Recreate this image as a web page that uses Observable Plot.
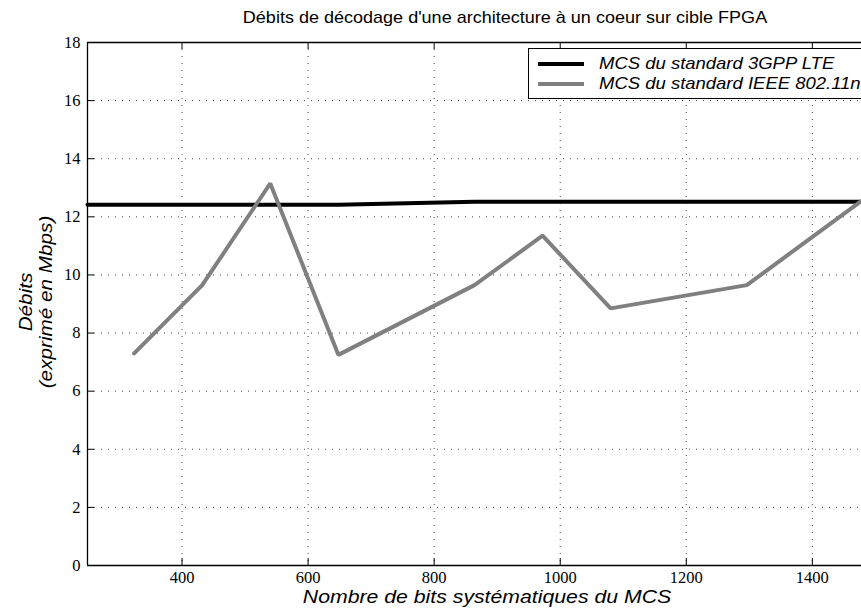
<!DOCTYPE html>
<html>
<head>
<meta charset="utf-8">
<script src="https://cdn.jsdelivr.net/npm/d3@7"></script>
<script src="https://cdn.jsdelivr.net/npm/@observablehq/plot@0.6"></script>
<style>
  html, body { margin: 0; padding: 0; background: #fff; overflow: hidden; }
  #wrap { position: relative; width: 861px; height: 612px; overflow: hidden; }
  #wrap svg text { font-family: "Liberation Serif", serif !important; font-size: 16.5px !important; }
  .lbl { position: absolute; font-family: "Liberation Sans", Arial, sans-serif; color: #000; white-space: nowrap; line-height: 1; }
  #legend { position: absolute; left: 528px; top: 48px; width: 400px; height: 51px; border: 1px solid #000; background: #fff; box-sizing: border-box; }
  .row { position: absolute; left: 0; height: 20px; }
  .sw { position: absolute; left: 9px; width: 46px; height: 4px; }
  .lt { position: absolute; left: 70px; font-family: "Liberation Sans", Arial, sans-serif; font-style: italic; font-size: 16.5px; white-space: nowrap; line-height: 18px; transform: scaleX(1.12); transform-origin: 0 0; }
</style>
</head>
<body>
<div id="wrap"></div>
<script>
// ---- data ----
const titleText = "Débits de décodage d'une architecture à un coeur sur cible FPGA";
const xLabel = "Nombre de bits systématiques du MCS";
const yLabel1 = "Débits";
const yLabel2 = "(exprimé en Mbps)";
const seriesNames = ["MCS du standard 3GPP LTE", "MCS du standard IEEE 802.11n"];
const xTicks = [400, 600, 800, 1000, 1200, 1400];
const yTicks = [0, 2, 4, 6, 8, 10, 12, 14, 16, 18];
const xDomain = [250, 1478];
const yDomain = [0, 18];
const lteX = [250, 400, 648, 864, 1000, 1200, 1478];
const lteY = [12.42, 12.42, 12.42, 12.52, 12.52, 12.52, 12.52];
const wifiX = [324, 432, 540, 648, 864, 972, 1080, 1296, 1478];
const wifiY = [7.3, 9.65, 13.15, 7.25, 9.65, 11.35, 8.85, 9.65, 12.55];

const lte = lteX.map((x, i) => ({x, y: lteY[i]}));
const wifi = wifiX.map((x, i) => ({x, y: wifiY[i]}));

const W = 861, H = 612, mL = 87, mR = 0, mT = 42, mB = 47;
const plotH = H - mT - mB, plotW = W - mL - mR, tk = 7;
const gridStyle = {stroke: "#222", strokeWidth: 1, strokeDasharray: "1,6", strokeOpacity: 0.85};
const serif = "Liberation Serif";
const tickFont = {fontFamily: serif, fontSize: 16.5, fill: "#000"};

const chart = Plot.plot({
  width: W, height: H,
  marginLeft: mL, marginRight: mR, marginTop: mT, marginBottom: mB,
  style: {fontFamily: serif, fontSize: "16.5px"},
  x: {domain: xDomain, axis: null},
  y: {domain: yDomain, axis: null},
  marks: [
    // grid
    Plot.ruleX(xTicks, {x: d => d, ...gridStyle}),
    Plot.ruleY(yTicks.filter(d => d > yDomain[0] && d < yDomain[1]), {y: d => d, ...gridStyle}),
    // inward ticks
    Plot.ruleX(xTicks, {x: d => d, insetTop: plotH - tk, stroke: "#000"}),
    Plot.ruleX(xTicks, {x: d => d, insetBottom: plotH - tk, stroke: "#000"}),
    Plot.ruleY(yTicks, {y: d => d, insetRight: plotW - tk, stroke: "#000"}),
    // frame (left, bottom, top)
    Plot.ruleX([xDomain[0]], {x: d => d, stroke: "#000", strokeWidth: 1.3}),
    Plot.ruleY(yDomain, {y: d => d, stroke: "#000", strokeWidth: 1.3}),
    // series
    Plot.line(lte, {x: "x", y: "y", stroke: "#000", strokeWidth: 4, strokeLinejoin: "miter"}),
    Plot.line(wifi, {x: "x", y: "y", stroke: "#808080", strokeWidth: 4, strokeLinejoin: "miter"}),
    // tick labels, placed through the scales
    Plot.text(xTicks, {x: d => d, text: d => String(d), frameAnchor: "bottom", lineAnchor: "top", dy: 6, ...tickFont}),
    Plot.text(yTicks, {y: d => d, text: d => String(d), frameAnchor: "left", textAnchor: "end", dx: -7, ...tickFont})
  ]
});

chart.setAttribute("font-family", serif);
chart.setAttribute("font-size", "16.5");
chart.querySelectorAll("text").forEach(t => {
  t.setAttribute("font-family", serif);
  t.setAttribute("font-size", "16.5");
  t.style.setProperty("font-family", "'Liberation Serif', serif", "important");
  t.style.setProperty("font-size", "16.5px", "important");
});

const wrap = document.getElementById("wrap");
wrap.appendChild(chart);

function addLabel(text, css) {
  const d = document.createElement("div");
  d.className = "lbl";
  d.textContent = text;
  Object.assign(d.style, css);
  wrap.appendChild(d);
  return d;
}
addLabel(titleText, {left: "505px", top: "17px", fontSize: "17px", transform: "translate(-50%,-50%) scaleX(1.06)"});
addLabel(xLabel, {left: "487px", top: "597px", fontSize: "18px", fontStyle: "italic", transform: "translate(-50%,-50%) scaleX(1.18)"});
addLabel(yLabel1, {left: "26px", top: "302px", fontSize: "18px", fontStyle: "italic", transform: "translate(-50%,-50%) rotate(-90deg) scaleX(1.15)"});
addLabel(yLabel2, {left: "46px", top: "302px", fontSize: "18px", fontStyle: "italic", transform: "translate(-50%,-50%) rotate(-90deg) scaleX(1.15)"});

// legend
const leg = document.createElement("div");
leg.id = "legend";
const colors = ["#000", "#808080"];
seriesNames.forEach((name, i) => {
  const row = document.createElement("div");
  row.className = "row";
  row.style.top = (4 + i * 20) + "px";
  const sw = document.createElement("div");
  sw.className = "sw";
  sw.style.background = colors[i];
  sw.style.top = "9px";
  const t = document.createElement("div");
  t.className = "lt";
  t.style.top = "1px";
  t.textContent = name;
  row.appendChild(sw); row.appendChild(t);
  leg.appendChild(row);
});
wrap.appendChild(leg);
</script>
</body>
</html>
